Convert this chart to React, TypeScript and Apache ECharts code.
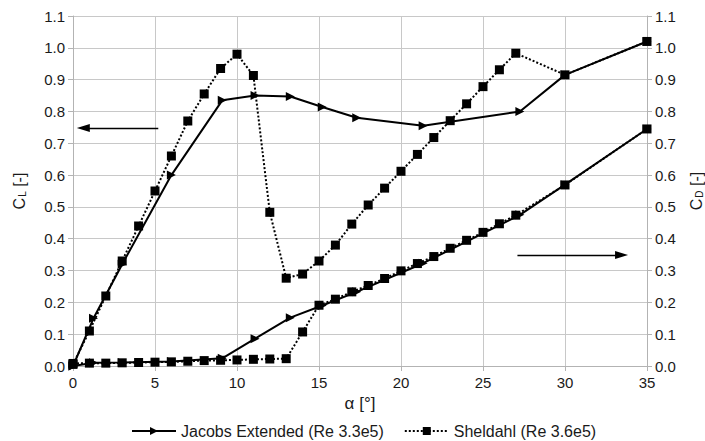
import React, { useEffect, useRef } from "react";
import * as echarts from "echarts";

const alphaJacobs = [0, 1.25, 3, 6, 9.1, 11.1, 13.25, 15.2, 17.3, 21.35, 27.25, 30, 35];
const clJacobs = [0, 0.15, 0.32, 0.6, 0.835, 0.85, 0.847, 0.814, 0.78, 0.755, 0.8, 0.915, 1.02];
const cdJacobs = [0, 0.01, 0.011, 0.014, 0.024, 0.086, 0.152, 0.19, 0.233, 0.323, 0.475, 0.57, 0.745];

const alphaSheldahl = [0, 1, 2, 3, 4, 5, 6, 7, 8, 9, 10, 11, 12, 13, 14, 15, 16, 17, 18, 19, 20, 21, 22, 23, 24, 25, 26, 27, 30, 35];
const clSheldahl = [0.005, 0.11, 0.22, 0.33, 0.44, 0.55, 0.66, 0.77, 0.855, 0.935, 0.98, 0.913, 0.483, 0.276, 0.289, 0.33, 0.38, 0.446, 0.506, 0.559, 0.612, 0.665, 0.718, 0.771, 0.824, 0.878, 0.931, 0.983, 0.915, 1.02];
const cdSheldahl = [0.008, 0.009, 0.009, 0.01, 0.011, 0.012, 0.013, 0.015, 0.017, 0.018, 0.019, 0.021, 0.022, 0.023, 0.107, 0.191, 0.21, 0.233, 0.253, 0.275, 0.299, 0.322, 0.344, 0.37, 0.395, 0.42, 0.447, 0.474, 0.569, 0.745];

const nameJacobs = "Jacobs Extended (Re 3.3e5)";
const nameSheldahl = "Sheldahl (Re 3.6e5)";

// annotation arrows [x0, y0, x1, y1] in data units
const arrowCL = [5.2, 0.748, 0.63, 0.748];
const arrowCD = [27.1, 0.349, 33.45, 0.349];

const FONT = "'Liberation Sans', Arial, sans-serif";
const TXT = "#1a1a1a";

function zip(xs: number[], ys: number[]) {
  return xs.map((x, i) => [x, ys[i]]);
}

export default function App() {
  const ref = useRef<HTMLDivElement>(null);
  useEffect(() => {
    if (!ref.current) return;
    const chart = echarts.init(ref.current, null, { renderer: "svg" });
    const axisY = (pos: "left" | "right", sub: string, gap: number, split: boolean) => ({
      type: "value",
      position: pos,
      min: 0,
      max: 1.1,
      interval: 0.1,
      name: `{a|C}{s|${sub}}{a| [-]}`,
      nameLocation: "middle",
      nameRotate: 90,
      nameGap: gap,
      nameTextStyle: {
        rich: {
          a: { fontSize: 16, color: TXT, fontFamily: FONT, lineHeight: 16 },
          s: { fontSize: 10, color: TXT, fontFamily: FONT, verticalAlign: "bottom", lineHeight: 16, padding: [8, 0, 0, 1] },
        },
      },
      axisLine: { show: true, lineStyle: { color: "#b3b3b3", width: 1 } },
      axisTick: { show: true, length: 5, lineStyle: { color: "#b3b3b3" } },
      axisLabel: {
        fontSize: 15,
        color: TXT,
        fontFamily: FONT,
        margin: 8,
        formatter: (v: number) => v.toFixed(1),
      },
      splitLine: { show: split, lineStyle: { color: "#c8c8c8", width: 1 } },
    });
    const markArrow = (a: number[]) => ({
      silent: true,
      symbol: ["none", "triangle"],
      symbolSize: [8, 13],
      label: { show: false },
      lineStyle: { color: "#000", width: 1.3, type: "solid" },
      data: [[{ coord: [a[0], a[1]] }, { coord: [a[2], a[3]] }]],
    });
    const jacobsStyle = {
      type: "line",
      symbol: "triangle",
      symbolRotate: -90,
      symbolSize: 9,
      itemStyle: { color: "#000" },
      lineStyle: { color: "#000", width: 2, type: "solid" },
      z: 2,
    };
    const sheldahlStyle = {
      type: "line",
      symbol: "rect",
      symbolSize: 9,
      itemStyle: { color: "#000" },
      lineStyle: { color: "#000", width: 2, type: "dotted" },
      z: 3,
    };
    chart.setOption({
      animation: false,
      textStyle: { fontFamily: FONT },
      grid: { left: 73, right: 58, top: 16, bottom: 75, containLabel: false, outerBoundsMode: "none" },
      legend: {
        top: 418,
        left: 126,
        itemWidth: 44,
        itemHeight: 10,
        itemGap: 20,
        data: [nameJacobs, nameSheldahl],
        textStyle: { fontSize: 16, color: TXT, fontFamily: FONT },
      },
      xAxis: {
        type: "value",
        min: 0,
        max: 35,
        interval: 5,
        name: "α [°]",
        nameLocation: "middle",
        nameGap: 20,
        nameTextStyle: { fontSize: 17, color: TXT, fontFamily: FONT },
        axisLine: { show: true, lineStyle: { color: "#b3b3b3" } },
        axisTick: { show: true, length: 5, lineStyle: { color: "#b3b3b3" } },
        axisLabel: { fontSize: 15, color: TXT, fontFamily: FONT, margin: 9 },
        splitLine: { show: true, lineStyle: { color: "#c8c8c8", width: 1 } },
      },
      yAxis: [axisY("left", "L", 46, true), axisY("right", "D", 33, false)],
      series: [
        { ...jacobsStyle, name: nameJacobs, yAxisIndex: 0, data: zip(alphaJacobs, clJacobs) },
        { ...jacobsStyle, name: nameJacobs, yAxisIndex: 1, data: zip(alphaJacobs, cdJacobs) },
        { ...sheldahlStyle, name: nameSheldahl, yAxisIndex: 0, data: zip(alphaSheldahl, clSheldahl), markLine: markArrow(arrowCL) },
        { ...sheldahlStyle, name: nameSheldahl, yAxisIndex: 1, data: zip(alphaSheldahl, cdSheldahl), markLine: markArrow(arrowCD) },
      ],
    });
    return () => chart.dispose();
  }, []);
  return <div ref={ref} style={{ width: 705, height: 441, position: "absolute", left: 0, top: 0 }} />;
}
